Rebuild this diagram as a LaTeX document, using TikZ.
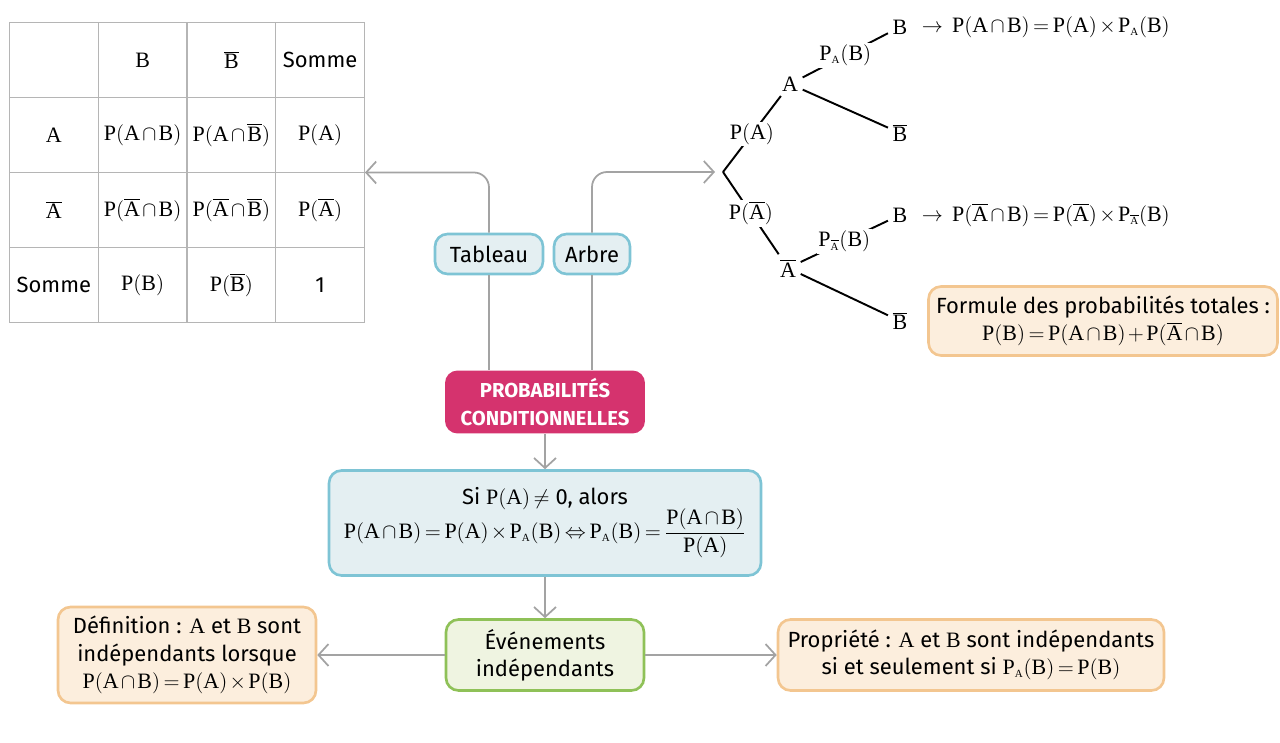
\documentclass[tikz,border=0pt]{standalone}
\usepackage{fontspec}
\setmainfont{Fira Sans}
\setmathrm{Liberation Serif}
\usetikzlibrary{arrows.meta, positioning, matrix}
\usepackage{xcolor}
\definecolor{bleufond}{HTML}{E4EFF2}
\definecolor{bleutrait}{HTML}{7EC4D5}
\definecolor{rose}{HTML}{D5336E}
\definecolor{vertfond}{HTML}{EFF4E1}
\definecolor{verttrait}{HTML}{8FC158}
\definecolor{orfond}{HTML}{FCEEDD}
\definecolor{ortrait}{HTML}{F3C690}
\definecolor{gris}{HTML}{A3A3A3}
\thickmuskip=3mu plus 1mu
\medmuskip=2mu
\tikzstyle{cellule} = [draw=gris!80, line width=0.6pt, minimum width=1.775cm, minimum height=1.5cm,
    inner sep=0pt, anchor=center]
\tikzstyle{bleu} = [rectangle, rounded corners=0.25cm, minimum height=0.8cm,
    align=center, draw=bleutrait, fill=bleufond, line width=1.5pt]
\tikzstyle{titre} = [rectangle, rounded corners=0.25cm, minimum width=4cm, minimum height=1.26cm,
    align=center, fill=rose, text=white, font=\fontsize{11.5}{15.5}\selectfont\bfseries]
\tikzstyle{vert} = [rectangle, rounded corners=0.25cm, minimum width=3.96cm, minimum height=1.42cm,
    align=center, draw=verttrait, fill=vertfond, line width=1.5pt]
\tikzstyle{encadre} = [rectangle, rounded corners=0.25cm, align=center,
    draw=ortrait, fill=orfond, line width=1.5pt]
\tikzstyle{fleche} = [gris, line width=1pt, -{Straight Barb[length=2mm, width=4.4mm]}]
\tikzstyle{trait} = [gris, line width=1pt]
\tikzstyle{branche} = [black, line width=1.1pt]
\tikzstyle{proba} = [fill=white, inner sep=1pt]
\tikzstyle{issue} = [inner sep=2.5pt]

\begin{document}
\begin{tikzpicture}[x=0.02cm, y=-0.02cm, font=\fontsize{12.5}{15.5}\selectfont]
\useasboundingbox (0,0) rectangle (1280,743);

\matrix (t) [matrix of nodes, nodes={cellule}, nodes in empty cells, inner sep=0pt, outer sep=0pt,
    column sep=-0.6pt, row sep=-0.6pt, anchor=north west] at (9,22) {
 & $\mathrm{B}$ & $\overline{\mathrm{B}}$ & Somme \\
$\mathrm{A}$ & $\mathrm{P(A\cap B)}$ & $\mathrm{P(A\cap \overline{B})}$ & $\mathrm{P(A)}$ \\
$\overline{\mathrm{A}}$ & $\mathrm{P(\overline{A}\cap B)}$ & $\mathrm{P(\overline{A}\cap \overline{B})}$ & $\mathrm{P(\overline{A})}$ \\
Somme & $\mathrm{P(B)}$ & $\mathrm{P(\overline{B})}$ & 1 \\
};

\node (tab) [bleu, minimum width=2.16cm] at (489,254) {Tableau};
\node (arb) [bleu, minimum width=1.52cm] at (592,254) {Arbre};
\node (pc) [titre] at (545,402) {PROBABILITÉS\\CONDITIONNELLES};
\node (si) [bleu, minimum width=8.64cm, minimum height=2.1cm] at (545,523) {Si $\mathrm{P(A)}\neq$ 0, alors\\[-2pt]
    $\mathrm{P(A\cap B)=P(A)\times P_{\scriptscriptstyle A}(B)}\Leftrightarrow \mathrm{P_{\scriptscriptstyle A}(B)}=\displaystyle\frac{\mathrm{P(A\cap B)}}{\mathrm{P(A)}}$};
\node (ev) [vert] at (545,655) {Événements\\indépendants};
\node (def) [encadre, minimum width=5.16cm, minimum height=1.92cm] at (187,655) {Définition : $\mathrm{A}$ et $\mathrm{B}$ sont\\indépendants lorsque\\$\mathrm{P(A\cap B)=P(A)\times P(B)}$};
\node (prop) [encadre, minimum width=7.72cm, minimum height=1.42cm] at (971,655) {Propriété : $\mathrm{A}$ et $\mathrm{B}$ sont indépendants\\si et seulement si $\mathrm{P_{\scriptscriptstyle A}(B)=P(B)}$};
\node (form) [encadre, minimum width=6.98cm, minimum height=1.38cm] at (1103,321) {Formule des probabilités totales :\\$\mathrm{P(B)=P(A\mathbin{\cap} B)+P(\overline{A}\mathbin{\cap} B)}$};

\coordinate (r) at (723,172);
\coordinate (ra) at (715,172);
\node (na) [issue] at (790,84) {$\mathrm{A}$};
\node (nab) [issue] at (788,268) {$\overline{\mathrm{A}}$};
\node (nb1) [issue] at (900,27) {$\mathrm{B}$};
\node (nb1b) [issue] at (900,133) {$\overline{\mathrm{B}}$};
\node (nb2) [issue] at (900,215) {$\mathrm{B}$};
\node (nb2b) [issue] at (900,321) {$\overline{\mathrm{B}}$};
\node (f1) [right=2pt of nb1] {$\rightarrow\ \mathrm{P(A\mathbin{\cap} B)=P(A)\times P_{\scriptscriptstyle A}(B)}$};
\node (f2) [right=2pt of nb2] {$\rightarrow\ \mathrm{P(\overline{A}\mathbin{\cap} B)=P(\overline{A})\times P_{\scriptscriptstyle\overline{A}}(B)}$};

\draw[branche] (r) -- node[proba] {$\mathrm{P(A)}$} (na);
\draw[branche] (r) -- node[proba] {$\mathrm{P(\overline{A})}$} (nab);
\draw[branche] (na) -- node[proba] {$\mathrm{P_{\scriptscriptstyle A}(B)}$} (nb1);
\draw[branche] (na) -- (nb1b);
\draw[branche] (nab) -- node[proba] {$\mathrm{P_{\scriptscriptstyle\overline{A}}(B)}$} (nb2);
\draw[branche] (nab) -- (nb2b);

\draw[trait] (tab.south) -- (tab.south |- pc.north);
\draw[trait] (arb.south) -- (arb.south |- pc.north);
\draw[fleche, rounded corners=0.3cm] (tab.north) |- (t.east);
\draw[fleche, rounded corners=0.3cm] (arb.north) |- (ra);
\draw[fleche] (pc.south) -- (si.north);
\draw[fleche] (si.south) -- (ev.north);
\draw[fleche] (ev.west) -- (def.east);
\draw[fleche] (ev.east) -- (prop.west);
\end{tikzpicture}
\end{document}
